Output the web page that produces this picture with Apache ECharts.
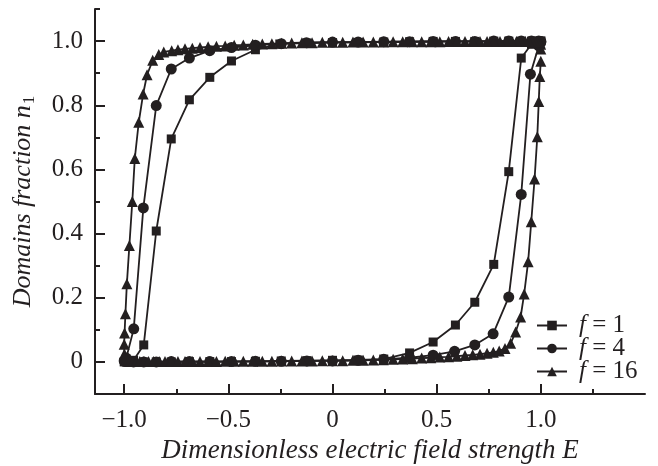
<!DOCTYPE html>
<html>
<head>
<meta charset="utf-8">
<script src="https://cdn.jsdelivr.net/npm/echarts@6/dist/echarts.min.js"></script>
<style>
html,body{margin:0;padding:0;background:#fff;}
#chart{width:658px;height:466px;}
</style>
</head>
<body>
<div id="chart"></div>
<script>
// ---- tick values and labels ----
const xMajorTicks = [-1, -0.5, 0, 0.5, 1];
const xTickLabels = ['\u22121.0', '\u22120.5', '0', '0.5', '1.0'];
const xMinorTicks = [-0.75, -0.25, 0.25, 0.75, 1.25];
const yMajorTicks = [0, 0.2, 0.4, 0.6, 0.8, 1.0];
const yTickLabels = ['0', '0.2', '0.4', '0.6', '0.8', '1.0'];
const yMinorTicks = [0.1, 0.3, 0.5, 0.7, 0.9, 1.1];
const legendNames = ['f = 1', 'f = 4', 'f = 16'];

// ---- f = 1 (squares): [E, n1] ----
const f1Upper = [[1.0,1.0],[0.99,1.0],[0.955,1.0],[0.906,1.0],[0.846,1.0],[0.774,1.0],[0.683,0.999],[0.59,0.999],[0.483,0.999],[0.37,0.998],[0.246,0.997],[0.123,0.996],[0.0,0.995],[-0.123,0.994],[-0.253,0.991],[-0.37,0.973],[-0.485,0.938],[-0.589,0.887],[-0.687,0.817],[-0.774,0.695],[-0.846,0.408],[-0.906,0.053],[-0.955,0.005],[-0.99,0.001],[-1.0,0.0]];
const f1Lower = [[-0.99,0.0],[-0.955,0.0],[-0.906,0.0],[-0.846,0.0],[-0.774,0.0],[-0.687,0.001],[-0.589,0.001],[-0.485,0.001],[-0.37,0.002],[-0.246,0.003],[-0.123,0.004],[0.0,0.005],[0.123,0.006],[0.246,0.009],[0.37,0.028],[0.483,0.062],[0.59,0.115],[0.683,0.186],[0.774,0.304],[0.846,0.593],[0.906,0.947],[0.955,0.99],[0.99,0.998],[1.0,1.0]];

// ---- f = 4 (circles) ----
const f4Upper = [[1.0,0.999],[0.99,1.0],[0.955,1.0],[0.906,1.0],[0.846,1.0],[0.774,1.0],[0.683,0.999],[0.59,0.999],[0.483,0.999],[0.37,0.998],[0.246,0.998],[0.123,0.997],[0.0,0.997],[-0.125,0.995],[-0.246,0.992],[-0.37,0.987],[-0.485,0.98],[-0.589,0.97],[-0.687,0.947],[-0.774,0.913],[-0.846,0.799],[-0.908,0.48],[-0.954,0.103],[-0.99,0.012],[-1.0,0.003]];
const f4Lower = [[-0.99,0.001],[-0.955,0.0],[-0.906,0.0],[-0.846,0.0],[-0.774,0.001],[-0.687,0.001],[-0.589,0.001],[-0.485,0.001],[-0.37,0.002],[-0.246,0.002],[-0.123,0.003],[0.0,0.003],[0.123,0.005],[0.246,0.008],[0.37,0.013],[0.483,0.021],[0.586,0.033],[0.683,0.053],[0.771,0.0875],[0.846,0.202],[0.906,0.522],[0.95,0.897],[0.99,0.985],[1.0,0.997]];

// ---- f = 16 (triangles) ----
const f16Upper = [[1.0,0.975],[0.999,0.99],[0.996,0.995],[0.99,0.997],[0.982,0.998],[0.971,0.999],[0.958,0.999],[0.942,0.999],[0.925,0.999],[0.905,0.999],[0.883,0.999],[0.859,0.999],[0.832,0.999],[0.804,0.999],[0.774,0.999],[0.742,0.999],[0.708,0.999],[0.673,0.999],[0.636,0.999],[0.597,0.999],[0.557,0.999],[0.515,0.998],[0.472,0.998],[0.428,0.998],[0.383,0.998],[0.337,0.998],[0.291,0.998],[0.244,0.997],[0.196,0.997],[0.147,0.997],[0.098,0.997],[0.049,0.996],[0.0,0.996],[-0.049,0.996],[-0.098,0.995],[-0.147,0.995],[-0.196,0.994],[-0.244,0.993],[-0.291,0.992],[-0.337,0.991],[-0.383,0.99],[-0.428,0.988],[-0.472,0.987],[-0.515,0.985],[-0.557,0.984],[-0.597,0.982],[-0.636,0.98],[-0.673,0.978],[-0.708,0.976],[-0.742,0.973],[-0.772,0.97],[-0.81,0.966],[-0.834,0.958],[-0.863,0.94],[-0.89,0.895],[-0.909,0.835],[-0.93,0.747],[-0.949,0.634],[-0.961,0.5],[-0.975,0.363],[-0.987,0.244],[-0.994,0.15],[-0.998,0.09],[-1.0,0.055]];
const f16Lower = [[-0.999,0.025],[-0.996,0.012],[-0.99,0.006],[-0.982,0.003],[-0.971,0.002],[-0.958,0.001],[-0.942,0.001],[-0.925,0.001],[-0.905,0.001],[-0.883,0.001],[-0.859,0.001],[-0.832,0.001],[-0.804,0.001],[-0.774,0.001],[-0.742,0.001],[-0.708,0.001],[-0.673,0.001],[-0.636,0.001],[-0.597,0.001],[-0.557,0.001],[-0.515,0.002],[-0.472,0.002],[-0.428,0.002],[-0.383,0.002],[-0.337,0.002],[-0.291,0.002],[-0.244,0.003],[-0.196,0.003],[-0.147,0.003],[-0.098,0.003],[-0.049,0.004],[0.0,0.004],[0.049,0.004],[0.098,0.005],[0.147,0.005],[0.196,0.006],[0.244,0.007],[0.291,0.008],[0.337,0.009],[0.383,0.01],[0.428,0.012],[0.472,0.013],[0.515,0.015],[0.557,0.016],[0.597,0.018],[0.636,0.02],[0.673,0.022],[0.708,0.024],[0.742,0.027],[0.772,0.03],[0.8,0.034],[0.828,0.042],[0.855,0.058],[0.879,0.093],[0.903,0.14],[0.92,0.212],[0.939,0.312],[0.954,0.437],[0.97,0.57],[0.983,0.702],[0.99,0.812],[0.995,0.89],[1.0,0.937]];

const INK = '#231f20';
const FONT = 'Liberation Serif';

function labelFor(ticks, labels) {
  return function (v) {
    for (let i = 0; i < ticks.length; i++) {
      if (Math.abs(ticks[i] - v) < 1e-9) return labels[i];
    }
    return '';
  };
}

const xRange = { min: -1.14, max: 1.5 };
const yRange = { min: -0.1, max: 1.1 };

function mkSeries(name, symbol, size, upper, lower) {
  return {
    name: name,
    type: 'line',
    data: upper.concat(lower),
    symbol: symbol,
    symbolSize: size,
    showSymbol: true,
    lineStyle: { color: INK, width: 1.8 },
    itemStyle: { color: INK, borderWidth: 0 },
    emphasis: { disabled: true },
    xAxisIndex: 0,
    yAxisIndex: 0
  };
}

const chart = echarts.init(document.getElementById('chart'), null, { renderer: 'canvas' });
chart.setOption({
  animation: false,
  backgroundColor: '#fff',
  grid: { left: 95, right: 13, top: 9, bottom: 72, containLabel: false, outerBoundsMode: 'none' },
  xAxis: [
    {
      type: 'value', min: xRange.min, max: xRange.max, position: 'bottom',
      axisLine: { show: true, onZero: false, lineStyle: { color: INK, width: 2 } },
      axisTick: { show: true, inside: true, length: 10, customValues: xMajorTicks, lineStyle: { color: INK, width: 2 } },
      axisLabel: { show: true, customValues: xMajorTicks, formatter: labelFor(xMajorTicks, xTickLabels), color: INK, fontFamily: FONT, fontSize: 25, margin: 14 },
      splitLine: { show: false },
      name: '{it|Dimensionless electric field strength E}',
      nameLocation: 'middle', nameGap: 43,
      nameTextStyle: { color: INK, fontFamily: FONT, fontSize: 27, rich: { it: { fontStyle: 'italic', fontFamily: FONT, fontSize: 27, color: INK } } }
    },
    {
      type: 'value', min: xRange.min, max: xRange.max, position: 'bottom', offset: 0,
      axisLine: { show: false, onZero: false },
      axisTick: { show: true, inside: true, length: 5, customValues: xMinorTicks, lineStyle: { color: INK, width: 2 } },
      axisLabel: { show: false },
      splitLine: { show: false }
    }
  ],
  yAxis: [
    {
      type: 'value', min: yRange.min, max: yRange.max, position: 'left',
      axisLine: { show: true, onZero: false, lineStyle: { color: INK, width: 2 } },
      axisTick: { show: true, inside: true, length: 10, customValues: yMajorTicks, lineStyle: { color: INK, width: 2 } },
      axisLabel: { show: true, customValues: yMajorTicks, formatter: labelFor(yMajorTicks, yTickLabels), color: INK, fontFamily: FONT, fontSize: 25, margin: 12 },
      splitLine: { show: false },
      name: '{it|Domains fraction n}{sub|1}',
      nameLocation: 'middle', nameGap: 57, nameRotate: 90,
      nameTextStyle: { color: INK, fontFamily: FONT, fontSize: 26, rich: {
        it: { fontStyle: 'italic', fontFamily: FONT, fontSize: 26, color: INK },
        sub: { fontFamily: FONT, fontSize: 17, color: INK, padding: [12, 0, 0, 1] }
      } }
    },
    {
      type: 'value', min: yRange.min, max: yRange.max, position: 'left', offset: 0,
      axisLine: { show: false, onZero: false },
      axisTick: { show: true, inside: true, length: 5, customValues: yMinorTicks, lineStyle: { color: INK, width: 2 } },
      axisLabel: { show: false },
      splitLine: { show: false }
    }
  ],
  legend: {
    orient: 'vertical', left: 531, top: 308,
    itemWidth: 30, itemHeight: 12, itemGap: -2,
    data: legendNames,
    formatter: function (name) { return '{i|f}{t|' + name.slice(1) + '}'; },
    textStyle: { color: INK, fontFamily: FONT, fontSize: 25, rich: {
      i: { fontStyle: 'italic', fontFamily: FONT, fontSize: 25, color: INK, padding: [0, 0, 0, 7] },
      t: { fontFamily: FONT, fontSize: 25, color: INK }
    } }
  },
  series: [
    mkSeries(legendNames[0], 'rect', 9, f1Upper, f1Lower),
    mkSeries(legendNames[1], 'circle', 11, f4Upper, f4Lower),
    mkSeries(legendNames[2], 'triangle', 11, f16Upper, f16Lower)
  ]
});
</script>
</body>
</html>
